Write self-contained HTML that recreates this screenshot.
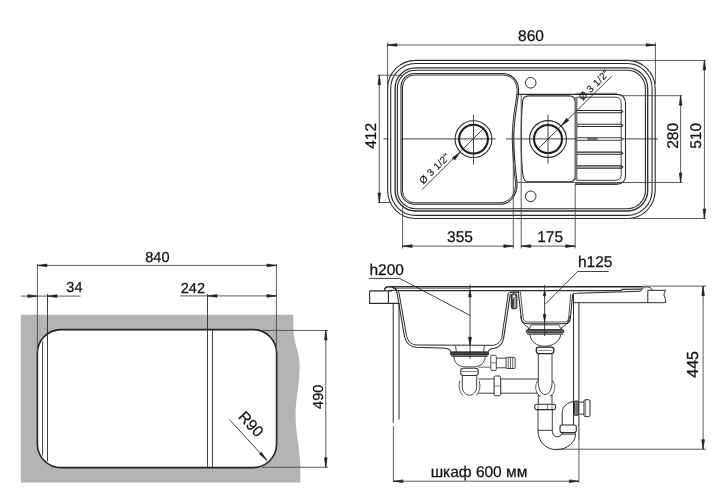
<!DOCTYPE html>
<html><head><meta charset="utf-8"><style>
html,body{margin:0;padding:0;background:#fff;}
svg{display:block;will-change:transform;}
text{text-rendering:geometricPrecision;font-family:"Liberation Sans",sans-serif;fill:#111;stroke:#111;stroke-width:0.25px;}
</style></head><body>
<svg width="727" height="501" viewBox="0 0 727 501">
<rect width="727" height="501" fill="#fff"/>
<g>
<rect x="387.6" y="60.4" width="267.6" height="158.1" rx="28" ry="28" stroke="#2b2b2b" stroke-width="1.1" fill="none"/>
<rect x="390.7" y="63.5" width="261.4" height="151.9" rx="24.9" ry="24.9" stroke="#2b2b2b" stroke-width="1.1" fill="none"/>
<rect x="395.1" y="67.9" width="252.6" height="143.1" rx="20.5" ry="20.5" stroke="#2b2b2b" stroke-width="1.3" fill="none"/>
<rect x="397.4" y="70.2" width="248" height="138.5" rx="18.2" ry="18.2" stroke="#2b2b2b" stroke-width="1.1" fill="none"/>
<path d="M414.5,73.5 L503,73.5 C511.0,73.5 518.6,80.0 518.6,90 L518.6,93 C517,105 514,120 513.8,135 C513.6,150 515.5,170 517,182 C518,195.0 510.0,204.3 500,204.3 L414.5,204.3 A13.5,13.5 0 0 1 401,190.8 L401,87 A13.5,13.5 0 0 1 414.5,73.5 Z" stroke="#2b2b2b" stroke-width="1.1" fill="none" />
<path d="M414.5,75.0 L503,75.0 C510.25,75.0 517.1,80.75 517.1,90 L517.1,93 C515.5,105 512.5,120 512.3,135 C512.1,150 514.0,170 515.5,182 C516.5,194.25 509.25,202.8 500,202.8 L414.5,202.8 A12.0,12.0 0 0 1 402.5,190.8 L402.5,87 A12.0,12.0 0 0 1 414.5,75.0 Z" stroke="#2b2b2b" stroke-width="1.0" fill="none" />
<line x1="516.8" y1="94.4" x2="617" y2="94.4" stroke="#2b2b2b" stroke-width="1.1" />
<path d="M576.5,93.6 L617,93.6" stroke="#999" stroke-width="1.6" fill="none" />
<line x1="517" y1="182.5" x2="682.4" y2="182.5" stroke="#4a4a4a" stroke-width="0.9" />
<line x1="575" y1="184.1" x2="617" y2="184.1" stroke="#2b2b2b" stroke-width="1.0" />
<path d="M529.4,95.9 L569,95.9 Q575.2,95.9 575.2,101.5 L575.2,176 Q575.2,181.8 569.5,181.8 L528.5,181.8 Q524,181.8 523,176 C521.5,165 521.2,150 521.2,138 C521.2,125 521.8,110 522.7,100.5 Q523.5,95.9 529.4,95.9 Z" stroke="#2b2b2b" stroke-width="1.1" fill="none" />
<path d="M575.2,94.4 L616.5,94.4 Q625.5,94.4 625.5,103.4 L625.5,175.6 Q625.5,184.1 617,184.1 L575.2,184.1" stroke="#2b2b2b" stroke-width="1.1" fill="none" />
<path d="M576.8,97.2 L615,97.2 Q621.2,97.2 621.2,103.4 L621.2,174.3 Q621.2,180.3 615.2,180.3 L576.8,180.3 Z" stroke="#2b2b2b" stroke-width="0.9" fill="none" />
<line x1="576" y1="97" x2="576" y2="180.5" stroke="#777" stroke-width="1.4" />
<path d="M577,110.5 L621.5,110.5 L622.8,111.6 L621.5,112.69999999999999 L577,112.69999999999999" stroke="#2b2b2b" stroke-width="1.1" fill="none" />
<path d="M577,124.30000000000001 L621.5,124.30000000000001 L622.8,125.4 L621.5,126.5 L577,126.5" stroke="#2b2b2b" stroke-width="1.1" fill="none" />
<path d="M577,152.1 L621.5,152.1 L622.8,153.2 L621.5,154.29999999999998 L577,154.29999999999998" stroke="#2b2b2b" stroke-width="1.1" fill="none" />
<path d="M577,165.9 L621.5,165.9 L622.8,167.0 L621.5,168.1 L577,168.1" stroke="#2b2b2b" stroke-width="1.1" fill="none" />
<path d="M577,137.7 L621.5,137.7 L622.8,139 L621.5,140.3 L577,140.3" stroke="#2b2b2b" stroke-width="0.9" fill="none" />
<circle cx="530.7" cy="82.8" r="5.3" stroke="#2b2b2b" stroke-width="1" fill="none"/>
<circle cx="530.7" cy="196.3" r="5.3" stroke="#2b2b2b" stroke-width="1" fill="none"/>
<circle cx="473.5" cy="139.1" r="18.4" stroke="#2b2b2b" stroke-width="1.1" fill="none"/>
<circle cx="473.5" cy="139.1" r="14.4" stroke="#1e1e1e" stroke-width="2.1" fill="none"/>
<circle cx="548" cy="139" r="18.4" stroke="#2b2b2b" stroke-width="1.1" fill="none"/>
<circle cx="548" cy="139" r="14" stroke="#1e1e1e" stroke-width="2.1" fill="none"/>
<line x1="383.5" y1="138.8" x2="388.5" y2="138.8" stroke="#2b2b2b" stroke-width="0.9" />
<line x1="401.5" y1="138.9" x2="495.7" y2="138.9" stroke="#2b2b2b" stroke-width="0.9" />
<line x1="506" y1="138.9" x2="576.5" y2="138.9" stroke="#2b2b2b" stroke-width="0.9" />
<line x1="587.2" y1="139" x2="597.5" y2="139" stroke="#2b2b2b" stroke-width="1.2" />
<line x1="622" y1="138.9" x2="658" y2="138.9" stroke="#2b2b2b" stroke-width="0.9" />
<line x1="473.5" y1="114.8" x2="473.5" y2="164.5" stroke="#2b2b2b" stroke-width="0.9" />
<line x1="548" y1="114.5" x2="548" y2="163.6" stroke="#2b2b2b" stroke-width="0.9" />
<line x1="422.2" y1="189.4" x2="484.5" y2="127.5" stroke="#2b2b2b" stroke-width="0.9" />
<path d="M459.90,152.60 L454.67,160.10 L452.40,157.83 Z" fill="#222" stroke="#222" stroke-width="0.7" stroke-linejoin="round"/>
<line x1="537.5" y1="149.4" x2="611.7" y2="76.2" stroke="#2b2b2b" stroke-width="0.9" />
<path d="M561.30,125.70 L566.53,118.20 L568.80,120.47 Z" fill="#222" stroke="#222" stroke-width="0.7" stroke-linejoin="round"/>
<text x="436.9" y="171.0" font-size="9.9" text-anchor="middle" transform="rotate(-45 436.9 171.0)" letter-spacing="0.35" style="stroke-width:0.12px">Ø 3 1/2"</text>
<text x="596.4" y="87.4" font-size="9.9" text-anchor="middle" transform="rotate(-45 596.4 87.4)" letter-spacing="0.35" style="stroke-width:0.12px">Ø 3 1/2"</text>
<line x1="387.6" y1="42.5" x2="387.6" y2="92" stroke="#4a4a4a" stroke-width="0.9" />
<line x1="655.4" y1="42.5" x2="655.4" y2="84" stroke="#4a4a4a" stroke-width="0.9" />
<line x1="387.6" y1="45" x2="655.4" y2="45" stroke="#4a4a4a" stroke-width="0.9" />
<path d="M387.40,45.00 L396.90,43.70 L396.90,46.30 Z" fill="#222" stroke="#222" stroke-width="0.7" stroke-linejoin="round"/>
<path d="M655.60,45.00 L646.10,46.30 L646.10,43.70 Z" fill="#222" stroke="#222" stroke-width="0.7" stroke-linejoin="round"/>
<text x="531" y="41.2" font-size="15.5" text-anchor="middle" >860</text>
<line x1="377.8" y1="75.2" x2="402" y2="75.2" stroke="#4a4a4a" stroke-width="0.9" />
<line x1="377.8" y1="202.5" x2="390.5" y2="202.5" stroke="#4a4a4a" stroke-width="0.9" />
<line x1="379.3" y1="75.2" x2="379.3" y2="202.5" stroke="#4a4a4a" stroke-width="0.9" />
<path d="M379.30,75.20 L380.60,84.70 L378.00,84.70 Z" fill="#222" stroke="#222" stroke-width="0.7" stroke-linejoin="round"/>
<path d="M379.30,202.50 L378.00,193.00 L380.60,193.00 Z" fill="#222" stroke="#222" stroke-width="0.7" stroke-linejoin="round"/>
<text x="376.1" y="135.9" font-size="15.5" text-anchor="middle" transform="rotate(-90 376.1 135.9)" >412</text>
<line x1="627" y1="60.4" x2="706" y2="60.4" stroke="#4a4a4a" stroke-width="0.9" />
<line x1="627" y1="218.5" x2="706" y2="218.5" stroke="#4a4a4a" stroke-width="0.9" />
<line x1="704.4" y1="60.4" x2="704.4" y2="218.5" stroke="#4a4a4a" stroke-width="0.9" />
<path d="M704.40,60.40 L705.70,69.90 L703.10,69.90 Z" fill="#222" stroke="#222" stroke-width="0.7" stroke-linejoin="round"/>
<path d="M704.40,218.50 L703.10,209.00 L705.70,209.00 Z" fill="#222" stroke="#222" stroke-width="0.7" stroke-linejoin="round"/>
<text x="700.9" y="135.9" font-size="15.5" text-anchor="middle" transform="rotate(-90 700.9 135.9)" >510</text>
<line x1="622" y1="95.7" x2="682.4" y2="95.7" stroke="#4a4a4a" stroke-width="0.9" />
<line x1="680.6" y1="95.7" x2="680.6" y2="182.5" stroke="#4a4a4a" stroke-width="0.9" />
<path d="M680.60,95.70 L681.90,105.20 L679.30,105.20 Z" fill="#222" stroke="#222" stroke-width="0.7" stroke-linejoin="round"/>
<path d="M680.60,182.50 L679.30,173.00 L681.90,173.00 Z" fill="#222" stroke="#222" stroke-width="0.7" stroke-linejoin="round"/>
<text x="678.4" y="135.9" font-size="15.5" text-anchor="middle" transform="rotate(-90 678.4 135.9)" >280</text>
<line x1="402.6" y1="205" x2="402.6" y2="248.5" stroke="#4a4a4a" stroke-width="0.9" />
<line x1="513.3" y1="132" x2="513.3" y2="248.5" stroke="#4a4a4a" stroke-width="0.9" />
<line x1="521.2" y1="94.4" x2="521.2" y2="248.5" stroke="#4a4a4a" stroke-width="0.9" />
<line x1="575.2" y1="184" x2="575.2" y2="248.5" stroke="#4a4a4a" stroke-width="0.9" />
<line x1="402.6" y1="246.1" x2="513.3" y2="246.1" stroke="#4a4a4a" stroke-width="0.9" />
<line x1="521.2" y1="246.1" x2="575.2" y2="246.1" stroke="#4a4a4a" stroke-width="0.9" />
<path d="M402.60,246.10 L412.10,244.80 L412.10,247.40 Z" fill="#222" stroke="#222" stroke-width="0.7" stroke-linejoin="round"/>
<path d="M513.30,246.10 L503.80,247.40 L503.80,244.80 Z" fill="#222" stroke="#222" stroke-width="0.7" stroke-linejoin="round"/>
<path d="M521.20,246.10 L530.70,244.80 L530.70,247.40 Z" fill="#222" stroke="#222" stroke-width="0.7" stroke-linejoin="round"/>
<path d="M575.20,246.10 L565.70,247.40 L565.70,244.80 Z" fill="#222" stroke="#222" stroke-width="0.7" stroke-linejoin="round"/>
<text x="460" y="242.3" font-size="15.5" text-anchor="middle" >355</text>
<text x="550.1" y="242.3" font-size="15.5" text-anchor="middle" >175</text>
</g>
<g>
<path d="M20.8,314.8 L293.4,314.8 L293.4,329 C294,345 299.7,352 299.7,366 C299.7,385 295.6,398 295.6,414 C295.6,435 300.3,450 300.3,467 L300.3,482.6 L20.8,482.6 Z" fill="#b4b4b4" stroke="none"/>
<rect x="37.4" y="329.6" width="239.2" height="138" rx="23.5" ry="23.5" stroke="#222" stroke-width="1.6" fill="#fff"/>
<line x1="42.6" y1="341.5" x2="42.6" y2="455.5" stroke="#2b2b2b" stroke-width="0.9" />
<line x1="47.5" y1="294" x2="47.5" y2="461.3" stroke="#2b2b2b" stroke-width="0.9" />
<line x1="207.5" y1="294" x2="207.5" y2="467.6" stroke="#2b2b2b" stroke-width="0.9" />
<line x1="212.5" y1="329.6" x2="212.5" y2="467.6" stroke="#2b2b2b" stroke-width="0.9" />
<line x1="37.4" y1="264" x2="37.4" y2="352" stroke="#4a4a4a" stroke-width="0.9" />
<line x1="276.4" y1="264" x2="276.4" y2="353" stroke="#4a4a4a" stroke-width="0.9" />
<line x1="37.4" y1="265.4" x2="276.4" y2="265.4" stroke="#4a4a4a" stroke-width="0.9" />
<path d="M37.40,265.40 L46.90,264.10 L46.90,266.70 Z" fill="#222" stroke="#222" stroke-width="0.7" stroke-linejoin="round"/>
<path d="M276.40,265.40 L266.90,266.70 L266.90,264.10 Z" fill="#222" stroke="#222" stroke-width="0.7" stroke-linejoin="round"/>
<text x="157.4" y="261.8" font-size="14.5" text-anchor="middle" >840</text>
<line x1="20.8" y1="296.1" x2="80.5" y2="296.1" stroke="#4a4a4a" stroke-width="0.9" />
<path d="M37.40,296.10 L27.90,297.40 L27.90,294.80 Z" fill="#222" stroke="#222" stroke-width="0.7" stroke-linejoin="round"/>
<path d="M47.50,296.10 L57.00,294.80 L57.00,297.40 Z" fill="#222" stroke="#222" stroke-width="0.7" stroke-linejoin="round"/>
<text x="74.4" y="292.4" font-size="14.5" text-anchor="middle" >34</text>
<line x1="180.2" y1="295.9" x2="276.4" y2="295.9" stroke="#4a4a4a" stroke-width="0.9" />
<path d="M207.50,295.90 L217.00,294.60 L217.00,297.20 Z" fill="#222" stroke="#222" stroke-width="0.7" stroke-linejoin="round"/>
<path d="M276.40,295.90 L266.90,297.20 L266.90,294.60 Z" fill="#222" stroke="#222" stroke-width="0.7" stroke-linejoin="round"/>
<text x="192.9" y="292.9" font-size="14.5" text-anchor="middle" >242</text>
<line x1="262" y1="330.4" x2="328" y2="330.4" stroke="#4a4a4a" stroke-width="0.9" />
<line x1="262" y1="467.3" x2="328" y2="467.3" stroke="#4a4a4a" stroke-width="0.9" />
<line x1="325.8" y1="330.4" x2="325.8" y2="467.3" stroke="#4a4a4a" stroke-width="0.9" />
<path d="M325.80,330.40 L327.10,339.90 L324.50,339.90 Z" fill="#222" stroke="#222" stroke-width="0.7" stroke-linejoin="round"/>
<path d="M325.80,467.30 L324.50,457.80 L327.10,457.80 Z" fill="#222" stroke="#222" stroke-width="0.7" stroke-linejoin="round"/>
<text x="323.2" y="396.8" font-size="14.5" text-anchor="middle" transform="rotate(-90 323.2 396.8)" >490</text>
<line x1="229.5" y1="419.7" x2="266.8" y2="460.2" stroke="#2b2b2b" stroke-width="0.9" />
<path d="M266.80,460.20 L259.41,454.08 L261.33,452.33 Z" fill="#222" stroke="#222" stroke-width="0.7" stroke-linejoin="round"/>
<text x="247.1" y="427.7" font-size="15.5" text-anchor="middle" transform="rotate(47 247.1 427.7)" >R90</text>
</g>
<g>
<path d="M369.6,290.9 L392,290.9 M369.6,290.9 L369.6,303.4 L399.5,303.4 M388.4,290.9 L388.4,303.4" stroke="#2b2b2b" stroke-width="1.1" fill="none" />
<line x1="393.2" y1="303.4" x2="393.2" y2="422.7" stroke="#2b2b2b" stroke-width="1" />
<line x1="399" y1="303.4" x2="399" y2="419.6" stroke="#2b2b2b" stroke-width="1" />
<line x1="393.4" y1="425.8" x2="393.4" y2="482" stroke="#4a4a4a" stroke-width="0.9" />
<path d="M384.5,290.4 C384.5,287.8 386.5,286.8 389,286.8 L643.4,286.8" stroke="#2b2b2b" stroke-width="1.4" fill="none" />
<path d="M389,290.4 L397.5,290.4" stroke="#2b2b2b" stroke-width="1" fill="none" />
<path d="M397,290.6 L620.5,290.6 L622.5,289.4 L642,289.2" stroke="#2b2b2b" stroke-width="1.2" fill="none" />
<line x1="394.5" y1="288.4" x2="470" y2="288.4" stroke="#2b2b2b" stroke-width="0.6" />
<path d="M389,286.6 C394,286.6 396.5,289 397,293 L404.5,336.5 C406,343 410,346.5 416,347.2 L440,348 L445,348.2 C449,348.6 450.5,350 451,351.8" stroke="#2b2b2b" stroke-width="1.1" fill="none" />
<path d="M392,287.6 C395.5,288 398.7,290.5 399.2,294 L406.5,335.5 C408,341.5 411,344.5 416.5,345 L493.5,345.3 C498,344.5 500.8,341.5 501.8,337.5 L508.4,292.5" stroke="#2b2b2b" stroke-width="1.0" fill="none" />
<path d="M488,351.8 C488.5,350 490,348.6 494,348.2 C499.5,347.5 502.5,344 503.6,338.5 L510.4,293.3" stroke="#2b2b2b" stroke-width="1.1" fill="none" />
<path d="M509.6,292.2 L519.2,292.2" stroke="#222" stroke-width="1.3" fill="none" />
<rect x="511.4" y="293.9" width="5.4" height="14.9" rx="2.6" ry="2.6" stroke="#2a2a2a" stroke-width="1.1" fill="#aaa"/>
<circle cx="514.1" cy="296.2" r="1.6" stroke="#444" stroke-width="0.7" fill="#fff"/>
<path d="M512.3,299 L513.6,299 L513.4,307.8 L512.3,307.6 Z" stroke="#222" stroke-width="0.4" fill="#222" />
<path d="M518.2,291.5 L521.5,319.6 C522.3,322.3 524.5,323.7 528,323.7 L565.2,323.7 C568,323.7 570,321.5 570.4,317.9 L572.6,295 C573,293.5 574.5,293.2 577,293.2 L640.6,291.3" stroke="#2b2b2b" stroke-width="1.1" fill="none" />
<path d="M520.3,291.5 L523.3,318.5 C524,321 525.5,322 528.5,322 L564.5,322 C567,322 568.3,320.5 568.7,317.5 L570.8,293.5" stroke="#2b2b2b" stroke-width="0.8" fill="none" />
<path d="M640.6,291.3 C642,288.5 644,286.9 646.5,286.9 C649.5,286.9 651.8,288.3 652.7,290.6" stroke="#2b2b2b" stroke-width="1" fill="none" />
<path d="M647.8,290.3 L665.6,290.3 C664,293 663.5,295 664.6,297 C665.5,298.8 666,300.5 665.6,302.7 L573.5,302.7 M647.8,290.3 L647.8,302.7" stroke="#2b2b2b" stroke-width="1" fill="none" />
<line x1="573.5" y1="294" x2="573.5" y2="425" stroke="#2b2b2b" stroke-width="1" />
<line x1="578.9" y1="302.8" x2="578.9" y2="440" stroke="#2b2b2b" stroke-width="1" />
<line x1="578.9" y1="440" x2="578.9" y2="483" stroke="#4a4a4a" stroke-width="0.9" />
<path d="M455.6,345.8 L456.3,351.8 M484.3,345.8 L483.6,351.8" stroke="#2b2b2b" stroke-width="0.9" fill="none" />
<rect x="450.5" y="351.9" width="38.1" height="3.2" rx="1.2" ry="1.2" stroke="#1e1e1e" stroke-width="1.0" fill="#444"/>
<line x1="451.5" y1="356.4" x2="487.5" y2="356.4" stroke="#2b2b2b" stroke-width="0.9" />
<path d="M453.8,356.8 C454.5,363.5 459,366.9 466,366.9 L473,366.9 C480,366.9 484.6,363.5 485.3,356.8" stroke="#2b2b2b" stroke-width="0.9" fill="none" />
<rect x="460.7" y="368.3" width="17.5" height="7.2" rx="2.5" ry="2.5" stroke="#333" stroke-width="1.1" fill="#fff"/>
<line x1="461.5" y1="371.5" x2="477.5" y2="371.5" stroke="#2b2b2b" stroke-width="0.6" />
<path d="M462.3,375.5 L462.3,387 C462.3,392 466,395.2 469.5,395.2 C473,395.2 476.7,392 476.7,387 L476.7,375.5" stroke="#2b2b2b" stroke-width="0.9" fill="none" />
<path d="M459.8,381 C458.5,386 459,392 463,395.5 M479.2,381 C480.5,386 480,392 476,395.5" stroke="#2b2b2b" stroke-width="0.8" fill="none" />
<rect x="490.8" y="355.3" width="5.5" height="15.3" rx="1.2" ry="1.2" stroke="#333" stroke-width="0.9" fill="#fff"/>
<line x1="490.8" y1="362.8" x2="496.3" y2="362.8" stroke="#2b2b2b" stroke-width="0.6" />
<path d="M496.3,358.2 L506.1,358.2 M496.3,367.8 L506.1,367.8" stroke="#2b2b2b" stroke-width="0.9" fill="none" />
<rect x="506.1" y="357.3" width="9.1" height="11.2" rx="0.8" ry="0.8" stroke="#333" stroke-width="0.9" fill="#fff"/>
<line x1="508.3" y1="357.5" x2="508.3" y2="368.3" stroke="#2b2b2b" stroke-width="0.7" />
<line x1="510.5" y1="357.5" x2="510.5" y2="368.3" stroke="#2b2b2b" stroke-width="0.7" />
<line x1="512.7" y1="357.5" x2="512.7" y2="368.3" stroke="#2b2b2b" stroke-width="0.7" />
<line x1="478.5" y1="367.2" x2="490.8" y2="367.2" stroke="#2b2b2b" stroke-width="0.7" />
<line x1="478.2" y1="379" x2="538" y2="379" stroke="#2b2b2b" stroke-width="0.9" />
<line x1="478.2" y1="393.2" x2="538" y2="393.2" stroke="#2b2b2b" stroke-width="0.9" />
<rect x="494.1" y="376" width="6.6" height="19.7" rx="1.5" ry="1.5" stroke="#2a2a2a" stroke-width="1" fill="#fff"/>
<line x1="494.4" y1="386" x2="500.4" y2="386" stroke="#2b2b2b" stroke-width="0.6" />
<line x1="470" y1="284.6" x2="470" y2="358.8" stroke="#2b2b2b" stroke-width="0.9" />
<path d="M470.00,290.80 L471.40,296.80 L468.60,296.80 Z" fill="#222" stroke="#222" stroke-width="0.7" stroke-linejoin="round"/>
<path d="M470.00,345.30 L468.50,337.30 L471.50,337.30 Z" fill="#222" stroke="#222" stroke-width="0.7" stroke-linejoin="round"/>
<line x1="369" y1="278.4" x2="399.7" y2="278.4" stroke="#2b2b2b" stroke-width="0.9" />
<line x1="399.7" y1="278.4" x2="470" y2="315.4" stroke="#2b2b2b" stroke-width="0.9" />
<text x="386.7" y="275.2" font-size="15.5" text-anchor="middle" >h200</text>
<path d="M520.6,316 C521.5,322 524,325.5 528,327 L529,329.7 M569.6,316 C568.7,322 566.2,325.5 562.2,327 L561.2,329.7" stroke="#2b2b2b" stroke-width="0.9" fill="none" />
<path d="M531,324.9 L559,324.9 L561.2,329.7 L529,329.7 Z" stroke="#2b2b2b" stroke-width="0.8" fill="none" />
<rect x="526.3" y="329.8" width="37.6" height="3" rx="1.4" ry="1.4" stroke="#1e1e1e" stroke-width="1.0" fill="#666"/>
<line x1="527" y1="334.2" x2="563.2" y2="334.2" stroke="#2b2b2b" stroke-width="1.0" />
<path d="M530,334.6 C530.5,341.5 536.5,346.2 544.8,346.2 C553,346.2 560,341.5 560.7,334.6" stroke="#2b2b2b" stroke-width="0.9" fill="none" />
<rect x="536.3" y="347.1" width="17.5" height="6.5" rx="2.5" ry="2.5" stroke="#222" stroke-width="1.3" fill="#fff"/>
<line x1="537.8" y1="350.3" x2="552.2" y2="350.3" stroke="#2b2b2b" stroke-width="0.6" />
<line x1="538.3" y1="353.6" x2="538.3" y2="379.5" stroke="#2b2b2b" stroke-width="0.9" />
<line x1="552" y1="353.6" x2="552" y2="379.5" stroke="#2b2b2b" stroke-width="0.9" />
<path d="M538.3,379 C537.6,388 541,394.5 545.2,394.5 C549.4,394.5 552.8,388 552,379" stroke="#2b2b2b" stroke-width="0.9" fill="none" />
<path d="M537.2,381.5 C534.6,386 535.2,392.5 539.8,396.2 M553.2,381.5 C555.8,386 555.2,392.5 550.6,396.2" stroke="#2b2b2b" stroke-width="0.7" fill="none" />
<path d="M536.6,381.5 L538,381.2 M553.8,381.5 L552.4,381.2 M538.8,396.4 L540.6,395.4 M551.6,396.4 L549.8,395.4" stroke="#2b2b2b" stroke-width="0.7" fill="none" />
<line x1="538.3" y1="394.5" x2="538.3" y2="404.3" stroke="#2b2b2b" stroke-width="0.9" />
<line x1="552" y1="394.5" x2="552" y2="404.3" stroke="#2b2b2b" stroke-width="0.9" />
<rect x="534.7" y="404.3" width="20.8" height="5.3" rx="1.8" ry="1.8" stroke="#2a2a2a" stroke-width="1.1" fill="#fff"/>
<line x1="538.2" y1="404.5" x2="538.2" y2="409.4" stroke="#2b2b2b" stroke-width="0.6" />
<line x1="547.5" y1="404.5" x2="547.5" y2="409.4" stroke="#2b2b2b" stroke-width="0.6" />
<line x1="552" y1="404.5" x2="552" y2="409.4" stroke="#2b2b2b" stroke-width="0.6" />
<line x1="538" y1="409.6" x2="538" y2="430.3" stroke="#2b2b2b" stroke-width="0.9" />
<line x1="552.3" y1="409.6" x2="552.3" y2="430.3" stroke="#2b2b2b" stroke-width="0.9" />
<line x1="538" y1="430.3" x2="552.3" y2="430.3" stroke="#2b2b2b" stroke-width="0.9" />
<path d="M538,430.3 C538,442 546,449.7 556.8,449.7 C567,449.7 575.6,442 575.6,434.2" stroke="#2b2b2b" stroke-width="1" fill="none" />
<path d="M552.3,430.3 C552.3,434 554.4,436.8 556.8,436.8 C559.2,436.8 561.4,435.5 561.6,434.2" stroke="#2b2b2b" stroke-width="1" fill="none" />
<rect x="560" y="425" width="16.3" height="7.6" rx="2" ry="2" stroke="#2a2a2a" stroke-width="1.1" fill="#fff"/>
<line x1="561" y1="434.2" x2="575.5" y2="434.2" stroke="#2b2b2b" stroke-width="0.9" />
<line x1="562.3" y1="432.6" x2="562.3" y2="434.2" stroke="#2b2b2b" stroke-width="0.8" />
<line x1="575" y1="432.6" x2="575" y2="434.2" stroke="#2b2b2b" stroke-width="0.8" />
<path d="M562.2,425 L562.2,413 C562.2,406.5 567.5,401.7 574.4,401.7" stroke="#2b2b2b" stroke-width="1" fill="none" />
<rect x="574.4" y="401" width="3.8" height="14.3" rx="0.5" ry="0.5" stroke="#222" stroke-width="0.9" fill="#555"/>
<line x1="575.6" y1="401.3" x2="575.6" y2="415" stroke="#bbb" stroke-width="0.6" />
<line x1="577" y1="401.3" x2="577" y2="415" stroke="#bbb" stroke-width="0.6" />
<line x1="578.2" y1="402.2" x2="584" y2="402.2" stroke="#2b2b2b" stroke-width="0.9" />
<line x1="578.2" y1="414.2" x2="584" y2="414.2" stroke="#2b2b2b" stroke-width="0.9" />
<rect x="584" y="399.7" width="6" height="16.9" rx="1.3" ry="1.3" stroke="#2a2a2a" stroke-width="1" fill="#fff"/>
<line x1="585.6" y1="400" x2="585.6" y2="416.3" stroke="#2b2b2b" stroke-width="0.6" />
<line x1="544.6" y1="284.9" x2="544.6" y2="336" stroke="#2b2b2b" stroke-width="0.9" />
<path d="M544.60,290.80 L545.90,295.80 L543.30,295.80 Z" fill="#222" stroke="#222" stroke-width="0.7" stroke-linejoin="round"/>
<path d="M544.60,321.80 L543.20,314.30 L546.00,314.30 Z" fill="#222" stroke="#222" stroke-width="0.7" stroke-linejoin="round"/>
<line x1="577.6" y1="271.5" x2="608.5" y2="271.5" stroke="#2b2b2b" stroke-width="0.9" />
<line x1="577.6" y1="271.5" x2="545.5" y2="303.9" stroke="#2b2b2b" stroke-width="0.9" />
<text x="595.2" y="267.0" font-size="15.5" text-anchor="middle" >h125</text>
<line x1="643.4" y1="286.1" x2="706" y2="286.1" stroke="#4a4a4a" stroke-width="0.9" />
<line x1="556" y1="449.2" x2="706" y2="449.2" stroke="#4a4a4a" stroke-width="0.9" />
<line x1="703.1" y1="286.1" x2="703.1" y2="449.2" stroke="#4a4a4a" stroke-width="0.9" />
<path d="M703.10,286.10 L704.40,295.60 L701.80,295.60 Z" fill="#222" stroke="#222" stroke-width="0.7" stroke-linejoin="round"/>
<path d="M703.10,449.20 L701.80,439.70 L704.40,439.70 Z" fill="#222" stroke="#222" stroke-width="0.7" stroke-linejoin="round"/>
<text x="697.8" y="364.4" font-size="16" text-anchor="middle" transform="rotate(-90 697.8 364.4)" >445</text>
<line x1="393.4" y1="481.2" x2="578.9" y2="481.2" stroke="#4a4a4a" stroke-width="0.9" />
<path d="M393.40,481.20 L402.90,479.90 L402.90,482.50 Z" fill="#222" stroke="#222" stroke-width="0.7" stroke-linejoin="round"/>
<path d="M578.90,481.20 L569.40,482.50 L569.40,479.90 Z" fill="#222" stroke="#222" stroke-width="0.7" stroke-linejoin="round"/>
<text x="479" y="477" font-size="15.5" text-anchor="middle" >шкаф 600 мм</text>
</g>
</svg>
</body></html>
